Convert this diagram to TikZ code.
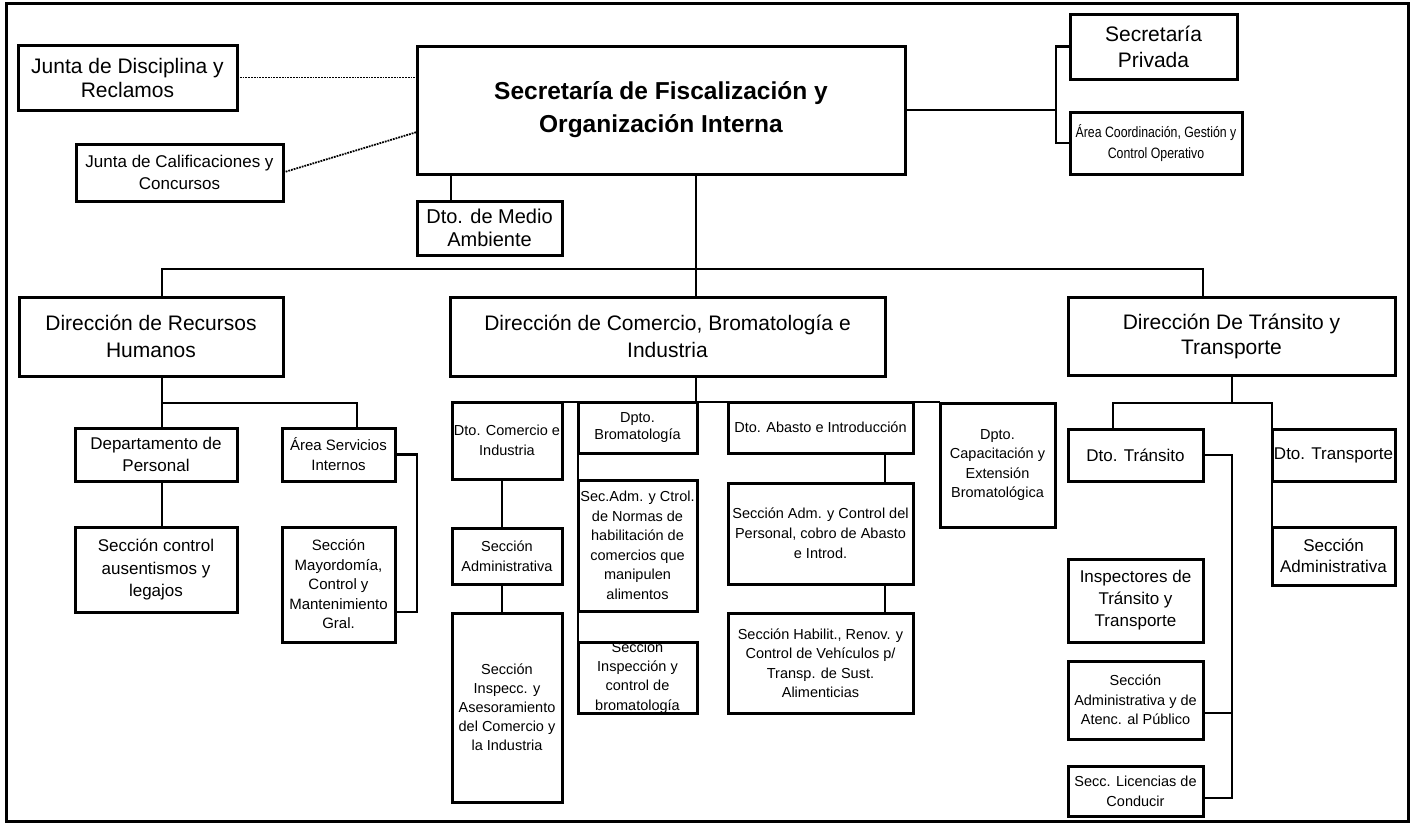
\documentclass[tikz,border=0pt]{standalone}
\usepackage{fontspec}
\setmainfont{Liberation Sans}
\newfontfamily\narrowfont[FakeStretch=0.82]{Liberation Sans}
\usetikzlibrary{calc}
\pgfdeclarelayer{back}
\pgfdeclarelayer{bg}
\pgfsetlayers{back,bg,main}
\tikzset{
  box/.style={draw, line width=3pt, fill=white, inner sep=0pt, outer sep=0pt, align=center},
  conn/.style={line width=2.6pt},
  dots/.style={line width=1.8pt, densely dotted},
  fs/.style 2 args={font=\fontsize{#1}{#2}\selectfont},
}
\newcommand\obox[7]{\node[box,#6,minimum width={(#4)-(#2)},minimum height={(#5)-(#3)}] (#1) at ({((#2)+(#4))/2},{((#3)+(#5))/2}) {#7};}
\begin{document}
\begin{tikzpicture}[x=1pt,y=-1pt]
\useasboundingbox (0,0) rectangle (1414,825);
\begin{pgfonlayer}{back}
\fill[white] (0,0) rectangle (1414,825);
\draw[line width=3pt] (6,3) rectangle (1408,821);
\end{pgfonlayer}

\obox{jdr}{18}{45}{237}{110}{fs={21}{24}}{Junta de Disciplina y\\Reclamos}
\obox{main}{417}{46}{905}{174}{font=\bfseries\fontsize{24.5}{33}\selectfont}{Secretaría de Fiscalización y\\Organización Interna}
\obox{jcc}{76}{144}{283}{201}{fs={17}{21.5}}{Junta de Calificaciones y\\Concursos}
\obox{dma}{417}{201}{562}{255}{fs={20}{23.5}}{Dto. de Medio\\Ambiente}
\obox{sp}{1070}{14}{1237}{79}{fs={21}{26}}{Secretaría\\Privada}
\obox{acg}{1070}{112}{1242}{174}{font=\narrowfont\fontsize{15}{21}\selectfont}{Área Coordinación, Gestión y\\Control Operativo}

\obox{drh}{19}{297}{283}{376}{fs={21}{27}}{Dirección de Recursos\\Humanos}
\obox{dcbi}{450}{297}{885}{376}{fs={21}{26.5}}{Dirección de Comercio, Bromatología e\\Industria}
\obox{dtt}{1068}{297}{1395}{375}{fs={21}{25}}{Dirección De Tránsito y\\Transporte}

\obox{dp}{75}{428}{237}{481}{fs={17}{21.5}}{Departamento de\\Personal}
\obox{scal}{75}{527}{237}{612}{fs={17}{22.5}}{Sección control\\ausentismos y\\legajos}
\obox{asi}{282}{428}{395}{481}{fs={15}{20}}{Área Servicios\\Internos}
\obox{smay}{282}{527}{395}{642}{fs={15}{19.5}}{Sección\\Mayordomía,\\Control y\\Mantenimiento\\Gral.}

\obox{dci}{452}{402}{562}{479}{fs={14.5}{20}}{Dto. Comercio e\\Industria}
\obox{sadm}{452}{528}{562}{584}{fs={14.5}{19.5}}{Sección\\Administrativa}
\obox{sia}{452}{613}{562}{802}{fs={14.5}{19}}{Sección\\Inspecc. y\\Asesoramiento\\del Comercio y\\la Industria}
\obox{dbr}{578}{402}{697}{453}{fs={14.5}{17}}{Dpto.\\Bromatología}
\obox{sac}{578}{480}{697}{611}{fs={14.5}{19.5}}{Sec.Adm. y Ctrol.\\de Normas de\\habilitación de\\comercios que\\manipulen\\alimentos}
\obox{sic}{578}{642}{697}{713}{}{}
\begin{scope}
  \clip (sic.north west) rectangle (sic.south east);
  \node[fs={14.5}{19.3}, align=center, inner sep=0pt] (sictx) at (sic.center) {Sección\\Inspección y\\control de\\bromatología};
\end{scope}
\draw[line width=3pt] (sic.north west) rectangle (sic.south east);
\obox{dai}{728}{402}{913}{453}{fs={14.5}{19.5}}{Dto. Abasto e Introducción}
\obox{sapc}{728}{483}{913}{584}{fs={14.5}{20}}{Sección Adm. y Control del\\Personal, cobro de Abasto\\e Introd.}
\obox{shr}{728}{613}{913}{713}{fs={14.5}{19.5}}{Sección Habilit., Renov. y\\Control de Vehículos p/\\Transp. de Sust.\\Alimenticias}
\obox{dcap}{940}{403}{1055}{527}{fs={14.5}{19.5}}{Dpto.\\Capacitación y\\Extensión\\Bromatológica}

\obox{dtr}{1068}{429}{1203}{481}{fs={17}{21}}{Dto. Tránsito}
\obox{dtp}{1272}{429}{1395}{481}{fs={17}{21}}{Dto. Transporte}
\obox{sadr}{1272}{527}{1395}{585}{fs={17}{20.5}}{Sección\\Administrativa}
\obox{itt}{1068}{559}{1203}{642}{fs={17}{22}}{Inspectores de\\Tránsito y\\Transporte}
\obox{saap}{1068}{661}{1203}{739}{fs={14.5}{19.5}}{Sección\\Administrativa y de\\Atenc. al Público}
\obox{slc}{1068}{766}{1203}{816}{fs={14.5}{20}}{Secc. Licencias de\\Conducir}

\coordinate (br) at (1056,0);
\coordinate (cx) at (696,0);
\coordinate (cM) at (451,0);
\coordinate (busL) at (162,269);
\coordinate (busR) at (1203,269);
\coordinate (rL) at (162,403);
\coordinate (rR) at (357,403);
\coordinate (br2) at (417,612);
\coordinate (cB) at (502,0);
\coordinate (cA) at (885,0);
\coordinate (cT) at (1232,0);
\coordinate (tL) at (1113,403);
\coordinate (tR) at (1272,403);
\coordinate (br3) at (1232,798);

\begin{pgfonlayer}{bg}
\draw[dots] (jdr.east) -- (jdr.east -| main.west);
\draw[dots] (jcc.east) -- ([yshift=-22pt]main.west);
\draw[conn] (main.south -| cM) -- (dma.north -| cM);
\draw[conn] (main.east) -- (main.east -| br);
\draw[conn] (sp.west) -- (sp.west -| br) -- (acg.west -| br) -- (acg.west);
\draw[conn] (main.south -| cx) -- (dcbi.north -| cx);
\draw[conn] (busL |- drh.north) -- (busL) -- (busR) -- (busR |- dtt.north);
\draw[conn] (rL |- drh.south) -- (rL |- dp.north);
\draw[conn] (rL) -- (rR) -- (rR |- asi.north);
\draw[conn] (rL |- dp.south) -- (rL |- scal.north);
\draw[conn] (asi.east) -- (asi.east -| br2) -- (br2) -- (br2 -| smay.east);
\draw[conn] (cx |- dcbi.south) -- (cx |- dci.north);
\draw[conn] (dci.north west) -- (dcap.north west |- dci.north);
\draw[conn] (cB |- dci.south) -- (cB |- sadm.north);
\draw[conn] (cB |- sadm.south) -- (cB |- sia.north);
\draw[conn] (dbr.north west) -- (sic.south west);
\draw[conn] (cA |- dai.south) -- (cA |- sapc.north);
\draw[conn] (cA |- sapc.south) -- (cA |- shr.north);
\draw[conn] (cT |- dtt.south) -- (cT |- tL);
\draw[conn] (tL |- dtr.north) -- (tL) -- (tR) -- (tR |- sadr.north);
\draw[conn] (dtr.east) -- (dtr.east -| br3) -- (br3) -- (br3 -| slc.east);
\draw[conn] ([yshift=-13pt]saap.east) -- ([yshift=-13pt]saap.east -| br3);
\end{pgfonlayer}
\end{tikzpicture}
\end{document}
